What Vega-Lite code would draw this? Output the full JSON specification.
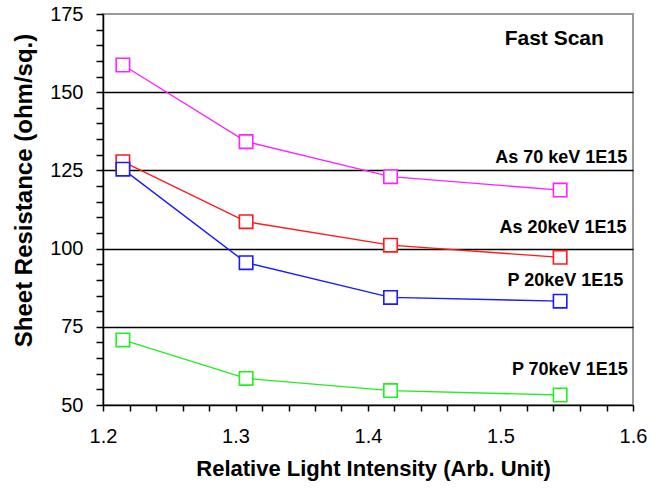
{
  "$schema": "https://vega.github.io/schema/vega-lite/v6.json",
  "width": 530,
  "height": 391,
  "autosize": {"type": "none"},
  "padding": {"left": 103, "top": 14, "right": 33, "bottom": 86},
  "background": "white",
  "config": {
    "view": {"stroke": "#999999", "strokeWidth": 2},
    "font": "Liberation Sans"
  },
  "datasets": {
    "series": [
      {"series": "As 70 keV", "intensity": 1.215, "rs": 158.7},
      {"series": "As 70 keV", "intensity": 1.308, "rs": 134.2},
      {"series": "As 70 keV", "intensity": 1.417, "rs": 123.0},
      {"series": "As 70 keV", "intensity": 1.545, "rs": 118.7},
      {"series": "As 20 keV", "intensity": 1.215, "rs": 127.8},
      {"series": "As 20 keV", "intensity": 1.308, "rs": 108.6},
      {"series": "As 20 keV", "intensity": 1.417, "rs": 101.1},
      {"series": "As 20 keV", "intensity": 1.545, "rs": 97.2},
      {"series": "P 20 keV", "intensity": 1.215, "rs": 125.4},
      {"series": "P 20 keV", "intensity": 1.308, "rs": 95.5},
      {"series": "P 20 keV", "intensity": 1.417, "rs": 84.4},
      {"series": "P 20 keV", "intensity": 1.545, "rs": 83.2},
      {"series": "P 70 keV", "intensity": 1.215, "rs": 70.8},
      {"series": "P 70 keV", "intensity": 1.308, "rs": 58.5},
      {"series": "P 70 keV", "intensity": 1.417, "rs": 54.6},
      {"series": "P 70 keV", "intensity": 1.545, "rs": 53.2}
    ],
    "notes": [
      {"label": "As 70 keV 1E15", "intensity": 1.5957, "rs": 127.5},
      {"label": "As 20keV 1E15", "intensity": 1.5951, "rs": 104.9},
      {"label": "P 20keV 1E15", "intensity": 1.5927, "rs": 88.0},
      {"label": "P 70keV 1E15", "intensity": 1.596, "rs": 59.6}
    ],
    "heading": [
      {"label": "Fast Scan", "intensity": 1.578, "rs": 165.1}
    ]
  },
  "layer": [
    {
      "data": {"name": "series"},
      "mark": {"type": "line", "strokeWidth": 1.4},
      "encoding": {
        "x": {
          "field": "intensity", "type": "quantitative",
          "scale": {"domain": [1.2, 1.6], "nice": false, "zero": false},
          "axis": {
            "orient": "bottom",
            "values": [1.2, 1.22, 1.24, 1.26, 1.28, 1.3, 1.32, 1.34, 1.36, 1.38, 1.4, 1.42, 1.44, 1.46, 1.48, 1.5, 1.52, 1.54, 1.56, 1.58, 1.6],
            "tickCount": 100,
            "labelExpr": "abs(datum.value * 10 - round(datum.value * 10)) < 0.001 ? format(datum.value, '.1f') : ''",
            "ticks": true,
            "tickSize": 6,
            "tickColor": "#000000", "tickWidth": 1.5, "tickOpacity": 1,
            "domainColor": "black", "domainWidth": 1.5,
            "labelFontSize": 20, "labelColor": "black", "labelPadding": 15,
            "labelFlush": false, "labelOverlap": false,
            "grid": false,
            "title": "Relative Light Intensity (Arb. Unit)",
            "titleFontSize": 22, "titleFontWeight": "bold", "titleColor": "black",
            "titlePadding": 12, "titleX": 270
          }
        },
        "y": {
          "field": "rs", "type": "quantitative",
          "scale": {"domain": [50, 175], "nice": false, "zero": false},
          "axis": {
            "orient": "left",
            "values": [50, 55, 60, 65, 70, 75, 80, 85, 90, 95, 100, 105, 110, 115, 120, 125, 130, 135, 140, 145, 150, 155, 160, 165, 170, 175],
            "tickCount": 100,
            "labelExpr": "datum.value % 25 == 0 ? datum.label : ''",
            "ticks": true,
            "tickSize": 7,
            "tickColor": "#000000", "tickWidth": 1.5, "tickOpacity": 1,
            "domainColor": "black", "domainWidth": 1.5,
            "labelFontSize": 20, "labelColor": "black", "labelPadding": 13,
            "labelFlush": false, "labelOverlap": false,
            "grid": true, "gridColor": "black", "gridWidth": 1.4,
            "gridOpacity": {"condition": {"test": "datum.value % 25 == 0 && datum.value > 50 && datum.value < 175", "value": 1}, "value": 0},
            "title": "Sheet Resistance (ohm/sq.)",
            "titleFontSize": 24, "titleFontWeight": "bold", "titleColor": "black",
            "titlePadding": 13, "titleY": 176
          }
        },
        "color": {
          "field": "series", "type": "nominal",
          "scale": {
            "domain": ["As 70 keV", "As 20 keV", "P 20 keV", "P 70 keV"],
            "range": ["#ff22ff", "#ff1a1a", "#1a1aff", "#22ee22"]
          },
          "legend": null
        }
      }
    },
    {
      "data": {"name": "series"},
      "mark": {"type": "point", "shape": "square", "size": 180, "filled": true, "fill": "white", "strokeWidth": 1.6, "opacity": 1},
      "encoding": {
        "x": {"field": "intensity", "type": "quantitative"},
        "y": {"field": "rs", "type": "quantitative"},
        "stroke": {
          "field": "series", "type": "nominal",
          "scale": {
            "domain": ["As 70 keV", "As 20 keV", "P 20 keV", "P 70 keV"],
            "range": ["#ff22ff", "#ff1a1a", "#1a1aff", "#22ee22"]
          },
          "legend": null
        }
      }
    },
    {
      "data": {"name": "notes"},
      "mark": {"type": "text", "align": "right", "baseline": "alphabetic", "fontSize": 18, "fontWeight": "bold", "color": "black"},
      "encoding": {
        "x": {"field": "intensity", "type": "quantitative"},
        "y": {"field": "rs", "type": "quantitative"},
        "text": {"field": "label"}
      }
    },
    {
      "data": {"name": "heading"},
      "mark": {"type": "text", "align": "right", "baseline": "alphabetic", "fontSize": 21, "fontWeight": "bold", "color": "black"},
      "encoding": {
        "x": {"field": "intensity", "type": "quantitative"},
        "y": {"field": "rs", "type": "quantitative"},
        "text": {"field": "label"}
      }
    }
  ]
}
